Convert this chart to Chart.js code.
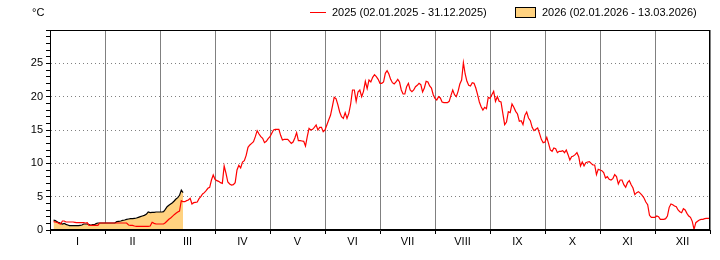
<!DOCTYPE html>
<html>
<head>
<meta charset="utf-8">
<script src="https://cdn.jsdelivr.net/npm/chart.js@4.4.1/dist/chart.umd.min.js"></script>
<style>
  body { margin: 0; background: #fff; }
</style>
</head>
<body>
<canvas id="myChart" width="720" height="260"></canvas>
<script>
const months = ['I', 'II', 'III', 'IV', 'V', 'VI', 'VII', 'VIII', 'IX', 'X', 'XI', 'XII'];
const daysIn = [31, 28, 31, 30, 31, 30, 31, 31, 30, 31, 30, 31];

const label2025 = '2025 (02.01.2025 - 31.12.2025)';
const label2026 = '2026 (02.01.2026 - 13.03.2026)';

// 2025, daily values in °C (Jan starts on the 2nd)
const jan2025 = [1.25,1.2,1.15,1.0,0.9,1.35,1.35,1.2,1.2,1.2,1.2,1.2,1.15,1.1,1.1,1.1,1.1,1.1,1.05,1.1,0.7,0.7,0.7,0.7,0.7,0.7,1.05,1.05,1.05,1.05];
const feb2025 = [1.05,1.05,1.05,1.05,1.05,1.05,1.05,1.05,1.05,1.05,1.05,0.75,0.7,0.7,0.6,0.55,0.55,0.55,0.55,0.55,0.55,0.55,0.6,1.15,1.0,0.9,0.9,0.9];
const mar2025 = [0.9,0.9,1.1,1.35,1.6,1.8,2.05,2.3,2.5,2.7,2.85,4.4,4.25,4.25,4.4,4.5,4.75,3.9,4.1,4.15,4.2,4.7,5.0,5.4,5.6,5.9,6.25,6.4,7.5,8.25,7.6];
const apr2025 = [7.4,7.3,7.1,7.0,9.6,8.5,7.2,6.9,6.75,6.8,7.1,9.0,9.7,9.3,10.2,10.4,11.2,12.4,12.75,13.0,13.25,14,14.9,14.4,14,13.75,13.1,13.3,13.7,14];
const may2025 = [14.5,15,15.1,15.1,15.1,14.2,13.5,13.6,13.6,13.6,13.3,13.0,13.2,13.8,14.6,13.4,13.4,13.35,13.3,12.6,14,15.25,15,15.1,15.4,15.75,15,15.4,15.4,14.75,15];
const jun2025 = [15.75,16.5,17.2,18.5,19.9,19.7,18.8,17.7,17,16.75,17.6,16.75,17.5,18.9,21,21,19.3,20.7,21,20,20.8,22.3,21.2,22.5,22.2,22.9,23.3,23,22.6,22];
const jul2025 = [22,22.2,23.5,23.9,23.4,22.6,22.1,21.9,22.2,22.6,22.2,21,20.4,20.4,21.5,22,21,20.75,21,21.5,21.7,22,21.8,20.7,21.3,22.3,22.2,21.6,21.3,20.3,19.75];
const aug2025 = [19.5,20,19.8,19.2,19.1,19.1,19.1,19.3,20.2,21,20.3,20,20.8,21.9,22.5,25.1,23.4,22.3,21.7,21.6,22.1,22,21.3,20.3,19.2,18.5,18,18.4,18.2,19.9,19.75];
const sep2025 = [20.3,20.8,19.3,20,19.3,19.2,17.5,15.8,16.2,17.75,17.6,18.9,18.4,17.8,17.4,16.3,16.4,15.8,17.2,17.7,16.8,16.4,15.4,14.9,15.1,15.3,14.5,13.6,13.1,13.2];
const oct2025 = [13.9,13.0,12,11.8,12.3,12.2,11.6,11.8,11.8,11.9,11.6,12,11.3,10.5,11,11.1,11.3,11.6,11,9.6,10.2,9.6,10.1,10.2,10.25,10,9.75,9.75,8.3,9.1,9.0];
const nov2025 = [8.9,8.6,7.8,8.0,7.6,7.5,7.7,8.3,8.0,6.9,7.5,7.5,6.8,6.4,7.1,7.4,6.8,6.3,5.3,5.6,5.75,5.5,5.2,4.8,4.2,3.8,2.2,1.9,1.9,1.9];
const dec2025 = [2.1,2.0,1.6,1.6,1.6,1.7,2.1,3.4,3.9,3.8,3.6,3.5,3.0,2.75,2.6,3.2,3.0,2.5,2.1,1.9,1.3,0.1,1.1,1.3,1.5,1.6,1.6,1.7,1.75,1.75,1.75];

// 2026, daily values in °C (02.01 - 13.03)
const jan2026 = [1.5,1.4,1.25,1.1,1.0,0.9,1.0,0.85,0.75,0.65,0.65,0.65,0.65,0.65,0.65,0.7,0.75,0.9,0.9,0.9,0.8,0.7,0.8,0.8,0.95,1.05,1.05,1.05,1.05,1.05];
const feb2026 = [1.05,1.05,1.05,1.05,1.05,1.25,1.3,1.35,1.45,1.5,1.6,1.65,1.7,1.7,1.75,1.8,1.9,2.0,2.1,2.2,2.35,2.7,2.6,2.65,2.65,2.7,2.7,2.7];
const mar2026 = [2.7,2.75,3.1,3.5,3.7,3.9,4.1,4.35,4.65,4.85,5.2,6.0,5.6];

// x = month index + day / days in month (each month gets the same width)
function toPoints(monthArrays, firstDay) {
    let pts = [];
    monthArrays.forEach(function(arr, m) {
        const start = m === 0 ? firstDay : 1;
        arr.forEach(function(v, i) {
            pts.push({x: m + (start + i) / daysIn[m], y: v});
        });
    });
    return pts;
}

const fill2026 = 'rgb(255, 210, 128)';
const fontName = '"Liberation Sans", Arial, sans-serif';

// frame, unit and legend
const extras = {
    id: 'extras',
    afterDraw(chart) {
        const ctx = chart.ctx;
        const a = chart.chartArea;
        ctx.save();
        ctx.strokeStyle = '#000';
        ctx.lineWidth = 1;
        ctx.strokeRect(Math.round(a.left) + 0.5, Math.round(a.top) + 0.5, Math.round(a.right - a.left) - 1, Math.round(a.bottom - a.top) - 1);

        ctx.font = '11px ' + fontName;
        ctx.fillStyle = '#000';
        ctx.textBaseline = 'middle';
        ctx.fillText('°C', 32, 13);

        const ds = chart.data.datasets;
        ctx.strokeStyle = ds[0].borderColor;
        ctx.beginPath();
        ctx.moveTo(310, 12.5);
        ctx.lineTo(326, 12.5);
        ctx.stroke();
        ctx.fillText(ds[0].label, 332, 13);

        ctx.fillStyle = ds[1].backgroundColor;
        ctx.fillRect(515.5, 7.5, 20, 10);
        ctx.strokeStyle = '#000';
        ctx.strokeRect(515.5, 7.5, 20, 10);
        ctx.fillStyle = '#000';
        ctx.fillText(ds[1].label, 542, 13);
        ctx.restore();
    }
};

const ctx = document.getElementById('myChart').getContext('2d');
const chart = new Chart(ctx, {
    type: 'line',
    data: {
        datasets: [{
            label: label2025,
            data: toPoints([jan2025, feb2025, mar2025, apr2025, may2025, jun2025, jul2025, aug2025, sep2025, oct2025, nov2025, dec2025], 2),
            borderColor: 'rgb(255, 0, 0)',
            borderWidth: 1.2,
            pointRadius: 0,
            fill: false
        }, {
            label: label2026,
            data: toPoints([jan2026, feb2026, mar2026], 2),
            borderColor: '#000',
            backgroundColor: fill2026,
            borderWidth: 1.2,
            pointRadius: 0,
            fill: 'origin'
        }]
    },
    options: {
        responsive: false,
        animation: false,
        layout: { padding: { top: 30, right: 10, left: 0, bottom: 0 } },
        plugins: {
            legend: { display: false },
            tooltip: { enabled: false }
        },
        elements: { line: { tension: 0 } },
        scales: {
            x: {
                type: 'linear',
                min: 0,
                max: 12,
                afterBuildTicks: function(s) {
                    let t = [];
                    for (let i = 0; i <= 24; i++) t.push({value: i / 2});
                    s.ticks = t;
                },
                afterFit: function(s) { s.height = 30; },
                ticks: {
                    autoSkip: false,
                    maxRotation: 0,
                    padding: 1,
                    color: '#000',
                    font: { family: fontName, size: 11 },
                    callback: function(v) {
                        return Number.isInteger(v) ? '' : months[Math.floor(v)];
                    }
                },
                grid: {
                    color: function(c) {
                        return c.tick && Number.isInteger(c.tick.value) ? '#808080' : 'transparent';
                    },
                    tickColor: function(c) {
                        return c.tick && Number.isInteger(c.tick.value) ? '#000' : 'transparent';
                    },
                    tickLength: 4,
                    lineWidth: 1
                },
                border: { color: '#000' }
            },
            y: {
                min: 0,
                max: 30,
                afterBuildTicks: function(s) {
                    let t = [];
                    for (let i = 0; i <= 30; i++) t.push({value: i});
                    s.ticks = t;
                },
                afterFit: function(s) { s.width = 50; },
                ticks: {
                    autoSkip: false,
                    padding: 3,
                    color: '#000',
                    font: { family: fontName, size: 11 },
                    callback: function(v) {
                        return (v % 5 === 0 && v < 30) ? v : '';
                    }
                },
                grid: {
                    display: true,
                    drawOnChartArea: true,
                    color: function(c) {
                        const i = c.index;
                        return (i % 5 === 0 && i > 0 && i < 30) ? '#808080' : 'rgba(0,0,0,0)';
                    },
                    tickColor: '#000',
                    tickLength: 4,
                    lineWidth: 1
                },
                border: { color: '#000', dash: [1, 3] }
            }
        }
    },
    plugins: [extras]
});
</script>
</body>
</html>
